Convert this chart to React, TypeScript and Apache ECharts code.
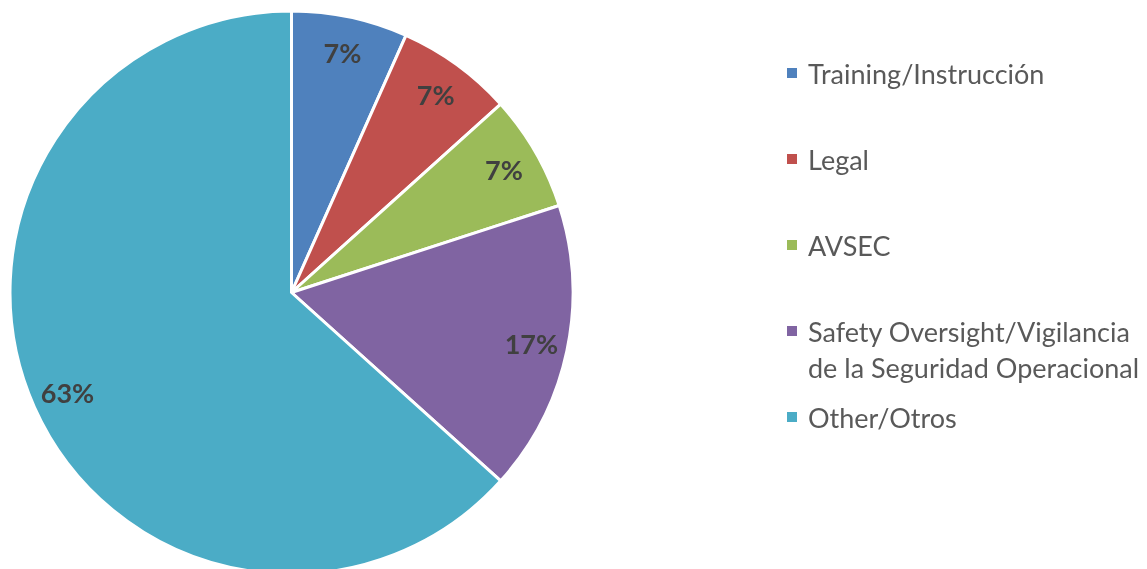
import React, { useEffect, useRef } from "react";
import * as echarts from "echarts";

const categories = [
  "Training/Instrucción",
  "Legal",
  "AVSEC",
  "Safety Oversight/Vigilancia\nde la Seguridad Operacional",
  "Other/Otros",
];
const values = [2, 2, 2, 5, 19];
const colors = ["#4F81BD", "#C0504D", "#9BBB59", "#8064A2", "#4BACC6"];
const legendY = [73, 159, 245, 331, 417];

const FONT = "Lato";

export default function App() {
  const ref = useRef<HTMLDivElement>(null);
  useEffect(() => {
    if (!ref.current) return;
    const chart = echarts.init(ref.current, undefined, { renderer: "svg" });
    const total = values.reduce((a, b) => a + b, 0);
    const data = categories.map((c, i) => ({ name: c, value: values[i], itemStyle: { color: colors[i] } }));
    const cx = 291.5, cy = 292.5, R = 281.5;
    const legendGraphics: any[] = [];
    categories.forEach((c, i) => {
      legendGraphics.push({
        type: "rect",
        shape: { x: 787, y: legendY[i] - 5, width: 10, height: 10 },
        style: { fill: colors[i] },
      });
      legendGraphics.push({
        type: "text",
        x: 808,
        y: legendY[i] - 18,
        style: {
          text: c,
          font: `27px ${FONT}`,
          fill: "#595959",
          lineHeight: 36,
          textVerticalAlign: "top",
        },
      });
    });
    chart.setOption({
      animation: false,
      series: [
        {
          type: "pie",
          center: [cx, cy],
          radius: [0, R],
          startAngle: 90,
          clockwise: true,
          silent: true,
          label: { show: false },
          labelLine: { show: false },
          itemStyle: { borderColor: "#ffffff", borderWidth: 3 },
          data,
        },
        {
          type: "pie",
          center: [cx, cy],
          radius: [203, R],
          startAngle: 90,
          clockwise: true,
          silent: true,
          itemStyle: { color: "transparent", borderWidth: 0 },
          labelLine: { show: false },
          label: {
            show: true,
            position: "inside",
            formatter: (p: any) => Math.round((p.value / total) * 100) + "%",
            fontFamily: FONT,
            fontWeight: "bold",
            fontSize: 27,
            color: "#404040",
          },
          data: categories.map((c, i) => ({ name: c, value: values[i] })),
        },
      ],
      graphic: legendGraphics,
    });
    return () => chart.dispose();
  }, []);
  return <div ref={ref} style={{ position: "fixed", left: 0, top: 0, width: 1147, height: 569 }} />;
}
